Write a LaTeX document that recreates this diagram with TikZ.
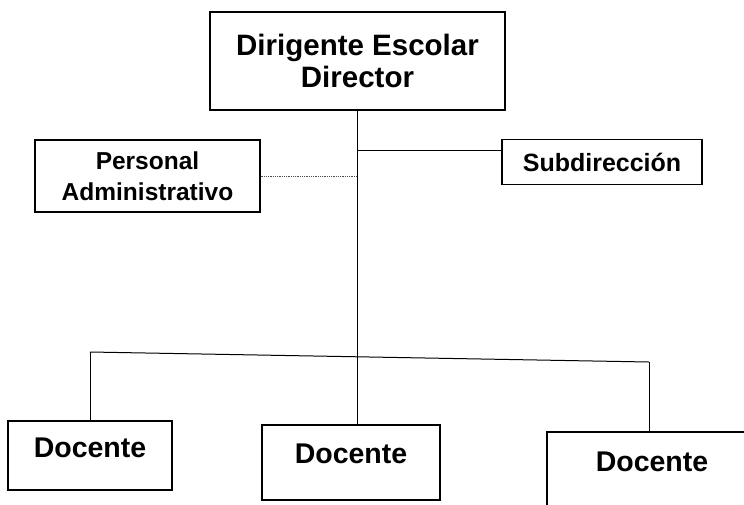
\documentclass[tikz,border=0pt]{standalone}
\usepackage{fontspec}
\setmainfont{Liberation Sans}
\begin{document}
\begin{tikzpicture}[x=1pt,y=-1pt,
  box/.style={draw=black,line width=1.2pt,rectangle,inner sep=0pt,align=center,font=\bfseries},
  link/.style={draw=black,line width=1pt},
  dotlink/.style={draw=black!70,line width=0.8pt,densely dotted}]
\useasboundingbox[fill=white] (0,0) rectangle (744,504);
\node[box,minimum width=295pt,minimum height=98pt,font=\bfseries\fontsize{29.5}{32}\selectfont] (dir) at (357.5,61) {Dirigente Escolar\\Director};
\node[box,minimum width=225pt,minimum height=72pt,font=\bfseries\fontsize{24.5}{31}\selectfont] (pa) at (147.5,176) {Personal\\Administrativo};
\node[box,minimum width=200pt,minimum height=45pt,font=\bfseries\fontsize{25}{28}\selectfont] (sub) at (602,162) {\raisebox{-4pt}{Subdirección}};
\node[box,minimum width=164pt,minimum height=69pt,font=\bfseries\fontsize{28.5}{30}\selectfont] (d1) at (90,455.5) {\raisebox{16pt}{Docente}};
\node[box,minimum width=178pt,minimum height=75pt,font=\bfseries\fontsize{28.5}{30}\selectfont] (d2) at (351,462.5) {\raisebox{18pt}{Docente}};
\node[box,minimum width=210pt,minimum height=75pt,font=\bfseries\fontsize{28.5}{30}\selectfont] (d3) at (652,469.5) {\raisebox{16pt}{Docente}};
\coordinate (bl) at (90,352);
\coordinate (br) at (649,362);
\coordinate (sj) at (357,150);
\coordinate (pj) at (357,176);
% main trunk
\draw[link] (dir.south -| sj) -- (sj |- d2.north);
% subdireccion
\draw[link] (sj) -- (sj -| sub.west);
% personal administrativo (dotted)
\draw[dotlink] (pa.east |- pj) -- (pj);
% bus
\draw[link] (bl) -- (br);
\draw[link] (bl) -- (d1.north);
\draw[link] (br) -- (br |- d3.north);
\end{tikzpicture}
\end{document}
